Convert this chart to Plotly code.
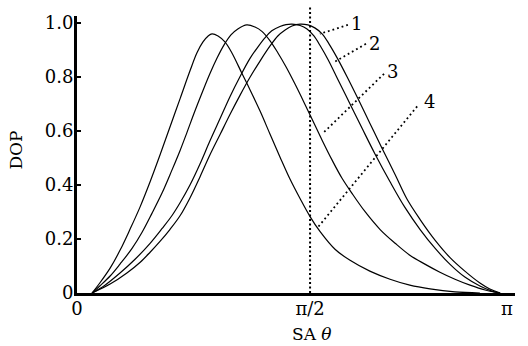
import plotly.graph_objects as go

# x values are theta expressed in units of pi (theta / pi); y values are DOP
curve1_x = [0.035, 0.077, 0.116, 0.147, 0.170, 0.193, 0.216, 0.240, 0.263, 0.286, 0.309, 0.333,
            0.356, 0.379, 0.402, 0.426, 0.449, 0.467, 0.484, 0.500, 0.519,
            0.537, 0.553, 0.570, 0.586, 0.605, 0.628, 0.653, 0.681, 0.709, 0.740, 0.767,
            0.798, 0.833, 0.867, 0.902, 0.937, 0.960, 0.984]
curve1_y = [0.0, 0.033, 0.074, 0.114, 0.151, 0.191, 0.235, 0.287, 0.353, 0.430, 0.511, 0.588,
            0.662, 0.732, 0.798, 0.860, 0.915, 0.952, 0.974, 0.989, 0.996,
            0.993, 0.982, 0.960, 0.923, 0.871, 0.801, 0.721, 0.629, 0.537, 0.438, 0.349,
            0.272, 0.195, 0.132, 0.081, 0.037, 0.015, 0.0]

curve2_x = [0.035, 0.065, 0.100, 0.135, 0.170, 0.198, 0.221, 0.240, 0.263, 0.286, 0.309, 0.333,
            0.356, 0.379, 0.402, 0.421, 0.437, 0.453, 0.472, 0.486, 0.500,
            0.519, 0.535, 0.551, 0.567, 0.584, 0.607, 0.635, 0.663, 0.693, 0.728, 0.763,
            0.798, 0.833, 0.867, 0.902, 0.937, 0.965, 0.984]
curve2_y = [0.0, 0.029, 0.074, 0.125, 0.184, 0.239, 0.287, 0.335, 0.401, 0.478, 0.563, 0.647,
            0.728, 0.801, 0.868, 0.912, 0.945, 0.971, 0.987, 0.994, 0.996,
            0.991, 0.978, 0.952, 0.912, 0.864, 0.790, 0.700, 0.610, 0.515, 0.412, 0.316,
            0.235, 0.165, 0.107, 0.059, 0.026, 0.007, 0.0]

curve3_x = [0.035, 0.053, 0.077, 0.100, 0.128, 0.151, 0.174, 0.198, 0.221, 0.240, 0.256, 0.274,
            0.293, 0.309, 0.326, 0.342, 0.358, 0.374, 0.395,
            0.414, 0.430, 0.449, 0.467, 0.486, 0.507, 0.528, 0.549, 0.570, 0.593, 0.616,
            0.640, 0.670, 0.705, 0.740, 0.774, 0.809, 0.844, 0.879, 0.914, 0.949, 0.984]
curve3_y = [0.0, 0.026, 0.063, 0.107, 0.165, 0.224, 0.294, 0.371, 0.456, 0.529, 0.596, 0.673,
            0.750, 0.812, 0.871, 0.919, 0.956, 0.978, 0.993,
            0.985, 0.969, 0.934, 0.890, 0.838, 0.774, 0.706, 0.636, 0.566, 0.493, 0.426,
            0.368, 0.301, 0.235, 0.184, 0.140, 0.107, 0.077, 0.051, 0.029, 0.011, 0.0]

curve4_x = [0.035, 0.053, 0.077, 0.100, 0.123, 0.147, 0.170, 0.193, 0.216, 0.240, 0.263, 0.279,
            0.293, 0.305, 0.314,
            0.328, 0.344, 0.360, 0.384, 0.402, 0.426, 0.449, 0.472, 0.495, 0.519, 0.542,
            0.565, 0.600, 0.635, 0.681, 0.728, 0.774, 0.821, 0.879, 0.937]
curve4_y = [0.0, 0.037, 0.092, 0.158, 0.235, 0.320, 0.412, 0.511, 0.614, 0.721, 0.824, 0.890,
            0.930, 0.952, 0.960,
            0.952, 0.930, 0.890, 0.812, 0.754, 0.673, 0.588, 0.504, 0.423, 0.349, 0.283,
            0.228, 0.162, 0.121, 0.081, 0.051, 0.029, 0.015, 0.004, 0.0]

curves_x = [curve1_x, curve2_x, curve3_x, curve4_x]
curves_y = [curve1_y, curve2_y, curve3_y, curve4_y]

# curve labels and their dotted leader lines
label_text = ["1", "2", "3", "4"]
label_x = [0.651, 0.693, 0.733, 0.819]
label_y = [1.000, 0.923, 0.820, 0.710]
leader_x = [[0.630, 0.565], [0.672, 0.600], [0.714, 0.572], [0.791, 0.560]]
leader_y = [[0.993, 0.960], [0.923, 0.857], [0.812, 0.592], [0.691, 0.243]]

# axes
x_tick_vals = [0.0, 0.542, 1.0]
x_tick_text = ["0", "π/2", "π"]
y_tick_vals = [0.0, 0.2, 0.4, 0.6, 0.8, 1.0]
y_tick_text = ["0", "0.2", "0.4", "0.6", "0.8", "1.0"]
marker_line_x = 0.542

FONT = "DejaVu Serif"

fig = go.Figure()
for cx, cy in zip(curves_x, curves_y):
    fig.add_trace(go.Scatter(x=cx, y=cy, mode="lines",
                             line=dict(color="black", width=1.2, shape="spline", smoothing=1.0),
                             showlegend=False, hoverinfo="skip"))

for lx, ly in zip(leader_x, leader_y):
    fig.add_trace(go.Scatter(x=lx, y=ly, mode="lines",
                             line=dict(color="black", width=1.8, dash="1.8px,3px"),
                             showlegend=False, hoverinfo="skip"))

for t, x, y in zip(label_text, label_x, label_y):
    fig.add_annotation(x=x, y=y, xref="x", yref="y", text=t, showarrow=False,
                       xanchor="center", yanchor="middle",
                       font=dict(family=FONT, size=18, color="black"))

fig.add_shape(type="line", xref="x", yref="paper", x0=marker_line_x, x1=marker_line_x,
              y0=0, y1=1.039, line=dict(color="black", width=2, dash="2px,2.5px"))

fig.add_annotation(xref="paper", yref="paper", x=-0.138, y=0.516, text="DOP", textangle=-90,
                   showarrow=False, xanchor="center", yanchor="middle",
                   font=dict(family=FONT, size=17, color="black"))
fig.add_annotation(xref="paper", yref="paper", x=0.537, y=-0.147, text="SA <i>θ</i>",
                   showarrow=False, xanchor="center", yanchor="middle",
                   font=dict(family=FONT, size=17, color="black"))

fig.update_layout(
    width=528, height=346,
    margin=dict(l=77, r=13, t=14, b=53),
    paper_bgcolor="white", plot_bgcolor="white",
    font=dict(family=FONT, size=18, color="black"),
    xaxis=dict(range=[0, 1.0186], tickvals=x_tick_vals, ticktext=x_tick_text,
               showgrid=False, zeroline=False, showline=True, linecolor="black", linewidth=3,
               ticks="", ticklabelstandoff=-3, fixedrange=True),
    yaxis=dict(range=[0, 1.026], tickvals=y_tick_vals, ticktext=y_tick_text,
               showgrid=False, zeroline=False, showline=True, linecolor="black", linewidth=3,
               ticks="inside", ticklen=4, tickwidth=2, tickcolor="black",
               ticklabelstandoff=-3, fixedrange=True),
)

fig.write_html("out.html")
